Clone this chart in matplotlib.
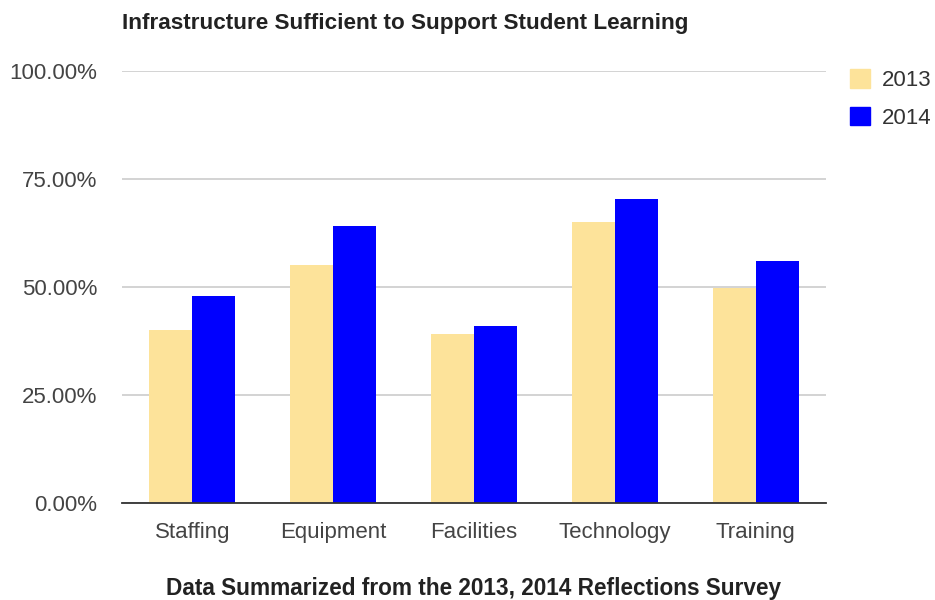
import matplotlib.pyplot as plt
import matplotlib.patches as mpatches
import numpy as np
from matplotlib.ticker import PercentFormatter

plt.rcParams['font.family'] = ['Liberation Sans', 'DejaVu Sans']

categories = ['Staffing', 'Equipment', 'Facilities', 'Technology', 'Training']
years = ['2013', '2014']
vals_2013 = [40.0, 55.0, 39.1, 65.0, 49.8]
vals_2014 = [47.8, 64.1, 40.9, 70.3, 55.9]
colors = ['#fde39a', '#0000ff']

fig = plt.figure(figsize=(9.35, 6), dpi=100)
ax = fig.add_axes([0.1305, 0.1617, 0.753, 0.72])

x = np.arange(len(categories))
w = 0.305
ax.bar(x - w / 2, np.array(vals_2013) / 100, w, color=colors[0], zorder=3)
ax.bar(x + w / 2, np.array(vals_2014) / 100, w, color=colors[1], zorder=3)

ax.set_xlim(-0.5, len(categories) - 0.5)
ax.set_ylim(0, 1.0)
ax.set_yticks([0, 0.25, 0.5, 0.75, 1.0])
ax.yaxis.set_major_formatter(PercentFormatter(1.0, decimals=2))
ax.set_xticks(x)
ax.set_xticklabels(categories)
ax.tick_params(length=0, labelsize=16, colors='#444444')
ax.tick_params(axis='x', pad=14)
ax.tick_params(axis='y', pad=18)
ax.grid(axis='y', color='#cccccc', linewidth=1.2, zorder=0)
for s in ['top', 'right', 'left']:
    ax.spines[s].set_visible(False)
ax.spines['bottom'].set_color('#333333')
ax.spines['bottom'].set_linewidth(1.3)
ax.spines['bottom'].set_zorder(4)

fig.text(0.1305, 0.96, 'Infrastructure Sufficient to Support Student Learning',
         fontsize=16.2, fontweight='bold', color='#222222', va='center', ha='left')
fig.text(0.507, 0.02, 'Data Summarized from the 2013, 2014 Reflections Survey',
         fontsize=16.3, fontweight='bold', color='#222222', va='center', ha='center')

handles = [mpatches.Patch(color=c, label=y) for c, y in zip(colors, years)]
fig.legend(handles=handles, loc='upper left', bbox_to_anchor=(850 / 935, 1 - 69 / 600),
           frameon=False, fontsize=16, handlelength=0.92, handleheight=0.92,
           handletextpad=0.5, labelspacing=0.7, borderpad=0, borderaxespad=0,
           labelcolor='#333333')

fig.savefig('out.png', dpi=100)
